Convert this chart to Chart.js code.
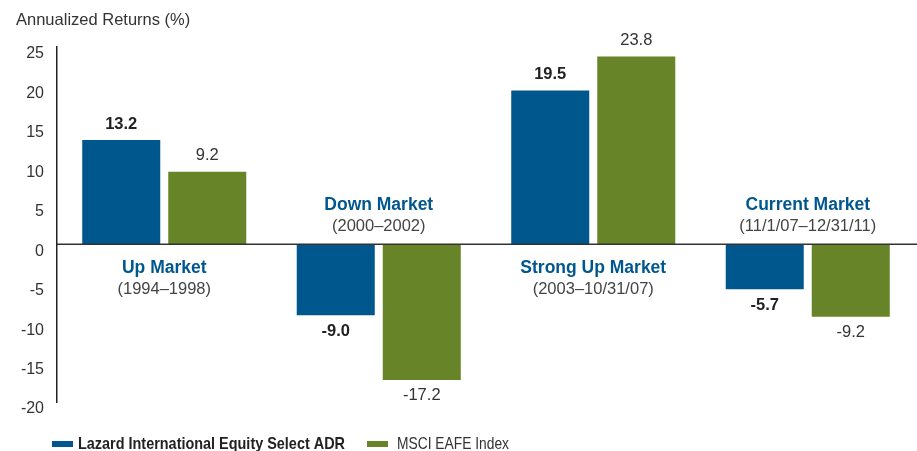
<!DOCTYPE html>
<html lang="en">
<head>
    <meta charset="UTF-8">
    <title>Annualized Returns</title>
    <style>
        html, body {
            margin: 0;
            padding: 0;
            background-color: #fff;
        }
        .chart-box {
            width: 917px;
            height: 451px;
        }
    </style>
</head>
<body>
    <div class="chart-box">
        <canvas id="returnsChart" width="917" height="451"></canvas>
    </div>

    <script src="https://cdn.jsdelivr.net/npm/chart.js"></script>
    <script>
        const categories = ['Up Market', 'Down Market', 'Strong Up Market', 'Current Market'];
        const periods = ['(1994\u20131998)', '(2000\u20132002)', '(2003\u201310/31/07)', '(11/1/07\u201312/31/11)'];
        const lazardValues = [13.2, -9.0, 19.5, -5.7];
        const msciValues = [9.2, -17.2, 23.8, -9.2];
        const yTicks = [25, 20, 15, 10, 5, 0, -5, -10, -15, -20];
        const seriesNames = ['Lazard International Equity Select ADR', 'MSCI EAFE Index'];

        const BLUE = '#00578d';
        const GREEN = '#678428';
        const TEXT = '#333333';
        const FONT = '"Liberation Sans", Arial, sans-serif';

        // draws tick labels, zero line, value labels, category names and legend
        const annotations = {
            id: 'annotations',
            afterDatasetsDraw(chart) {
                const ctx = chart.ctx;
                const y = chart.scales.y;
                const area = chart.chartArea;
                ctx.save();

                // title
                ctx.fillStyle = TEXT;
                ctx.font = '16.5px ' + FONT;
                ctx.textAlign = 'left';
                ctx.textBaseline = 'middle';
                ctx.fillText('Annualized Returns (%)', 16, 20);

                // y tick labels (sit a little below their value)
                ctx.textAlign = 'right';
                ctx.font = '16px ' + FONT;
                yTicks.forEach(t => {
                    ctx.fillText(String(t), 44, y.getPixelForValue(t) + 7);
                });

                // zero line
                const y0 = y.getPixelForValue(0);
                ctx.strokeStyle = '#333';
                ctx.lineWidth = 1.5;
                ctx.beginPath();
                ctx.moveTo(area.left, y0);
                ctx.lineTo(917, y0);
                ctx.stroke();

                // value labels
                chart.data.datasets.forEach((ds, di) => {
                    const meta = chart.getDatasetMeta(di);
                    meta.data.forEach((bar, i) => {
                        const v = ds.data[i];
                        ctx.font = (di === 0 ? 'bold 16.5px ' : '16.5px ') + FONT;
                        ctx.fillStyle = di === 0 ? '#222' : TEXT;
                        ctx.textAlign = 'center';
                        const ly = v >= 0 ? bar.y - 16 : bar.y + 16;
                        ctx.fillText(v.toFixed(1), bar.x, ly);
                    });
                });

                // category names near the zero line
                const x = chart.scales.x;
                categories.forEach((c, i) => {
                    const cx = x.getPixelForValue(i);
                    const up = lazardValues[i] >= 0;
                    const nameY = up ? y0 + 24 : y0 - 39;
                    ctx.textAlign = 'center';
                    ctx.font = 'bold 17.5px ' + FONT;
                    ctx.fillStyle = BLUE;
                    ctx.fillText(c, cx, nameY);
                    ctx.font = '16.5px ' + FONT;
                    ctx.fillStyle = '#444';
                    ctx.fillText(periods[i], cx, nameY + 21);
                });

                // legend (squeezed to the reference widths)
                const ly = 444;
                ctx.textAlign = 'left';
                ctx.fillStyle = BLUE;
                ctx.fillRect(52, ly - 3, 21, 6);
                ctx.fillStyle = '#222';
                ctx.font = 'bold 17px ' + FONT;
                ctx.fillText(seriesNames[0], 78, ly, 267);
                ctx.fillStyle = GREEN;
                ctx.fillRect(367, ly - 3, 21, 6);
                ctx.fillStyle = TEXT;
                ctx.font = '17px ' + FONT;
                ctx.fillText(seriesNames[1], 397, ly, 112);

                ctx.restore();
            }
        };

        const ctx = document.getElementById('returnsChart').getContext('2d');
        const returnsChart = new Chart(ctx, {
            type: 'bar',
            data: {
                labels: categories,
                datasets: [{
                    label: seriesNames[0],
                    data: lazardValues,
                    backgroundColor: BLUE,
                    categoryPercentage: 0.802,
                    barPercentage: 0.907
                }, {
                    label: seriesNames[1],
                    data: msciValues,
                    backgroundColor: GREEN,
                    categoryPercentage: 0.802,
                    barPercentage: 0.907
                }]
            },
            options: {
                responsive: false,
                animation: false,
                layout: {
                    padding: { left: 57, top: 47, right: 2, bottom: 49 }
                },
                plugins: {
                    legend: { display: false },
                    tooltip: { enabled: false }
                },
                scales: {
                    x: {
                        display: false
                    },
                    y: {
                        min: -20,
                        max: 25,
                        ticks: { display: false, stepSize: 5 },
                        grid: { display: false, drawTicks: false },
                        border: { display: true, color: '#222', width: 1.5 }
                    }
                }
            },
            plugins: [annotations]
        });
    </script>
</body>
</html>
